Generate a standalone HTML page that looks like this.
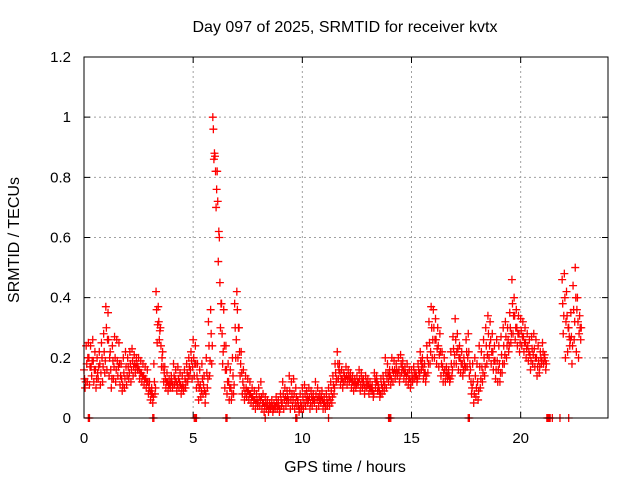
<!DOCTYPE html>
<html><head><meta charset="utf-8"><style>
body{margin:0;background:#fff}
svg{display:block;font-family:"Liberation Sans",sans-serif}
</style></head><body>
<svg id="chart" width="640" height="480" viewBox="0 0 640 480">
<rect width="640" height="480" fill="#fff"/>
<text x="345" y="32" font-size="16" text-anchor="middle">Day 097 of 2025, SRMTID for receiver kvtx</text>
<text x="345" y="472" font-size="16" text-anchor="middle">GPS time / hours</text>
<text transform="translate(19,240) rotate(-90)" font-size="16" text-anchor="middle">SRMTID / TECUs</text>
<g id="grid"></g>
<g id="axes"></g>
<g id="marks"></g>
<rect x="84" y="57" width="524" height="361" fill="none" stroke="#000" stroke-width="1"/>
</svg>
<script>
const xTicks = [0, 5, 10, 15, 20];
const yTicks = [0, 0.2, 0.4, 0.6, 0.8, 1, 1.2];
const yTickLabels = ["0", "0.2", "0.4", "0.6", "0.8", "1", "1.2"];
const step = 0.1;
const upperValues = [
.16,.24,.25,.24,.26,.22,.20,.22,.25,.28,
.37,.35,.22,.24,.27,.26,.25,.18,.20,.22,
.20,.22,.23,.21,.20,.20,.19,.18,.17,.16,
.12,.10,.18,.42,.37,.30,.22,.17,.15,.13,
.14,.18,.16,.17,.15,.14,.16,.18,.20,.22,
.26,.24,.18,.16,.18,.14,.20,.32,.36,1.00,
.87,.82,.60,.38,.36,.24,.18,.16,.20,.38,
.42,.30,.22,.16,.14,.13,.12,.10,.09,.08,
.10,.12,.08,.07,.06,.05,.06,.05,.07,.06,
.08,.12,.10,.09,.14,.12,.13,.10,.06,.08,
.10,.11,.09,.10,.09,.08,.12,.10,.08,.09,
.07,.08,.10,.12,.14,.18,.22,.18,.16,.15,
.17,.16,.15,.14,.13,.14,.16,.15,.13,.14,
.13,.12,.11,.15,.14,.10,.13,.14,.20,.18,
.16,.20,.19,.18,.20,.21,.19,.17,.18,.16,
.16,.17,.15,.18,.22,.20,.18,.24,.32,.37,
.36,.33,.30,.28,.22,.20,.17,.16,.22,.27,
.33,.28,.24,.22,.20,.26,.28,.16,.18,.20,
.18,.24,.22,.26,.30,.34,.32,.28,.24,.26,
.24,.27,.30,.32,.30,.35,.46,.40,.36,.34,
.33,.32,.30,.28,.26,.27,.28,.26,.24,.22,
.25,.21,null,null,null,null,null,null,null,.46,
.48,.42,.30,.35,.44,.50,.40,.34];
const upperMidValues = [
.13,.18,.20,.17,.19,.16,.15,.18,.20,.22,
.30,.26,.16,.19,.20,.19,.18,.13,.15,.17,
.17,.18,.19,.18,.18,.16,.15,.14,.13,.12,
.09,.08,.12,.36,.32,.24,.17,.13,.12,.11,
.12,.14,.12,.13,.11,.11,.13,.15,.17,.19,
.20,.18,.12,.11,.13,.09,.15,.24,.28,.96,
.82,.72,.45,.28,.24,.16,.12,.10,.14,.30,
.36,.22,.15,.10,.10,.09,.08,.07,.06,.06,
.07,.07,.05,.05,.04,.04,.04,.04,.05,.04,
.06,.08,.07,.07,.09,.08,.08,.07,.04,.05,
.07,.08,.07,.07,.07,.06,.08,.07,.06,.06,
.05,.06,.07,.09,.11,.15,.18,.15,.13,.14,
.14,.14,.13,.12,.12,.12,.13,.13,.11,.12,
.11,.10,.09,.13,.12,.09,.11,.12,.15,.15,
.14,.16,.16,.16,.16,.18,.16,.15,.15,.13,
.14,.15,.14,.16,.19,.17,.15,.20,.25,.30,
.30,.26,.24,.22,.17,.16,.15,.14,.18,.23,
.26,.23,.20,.18,.18,.22,.22,.12,.12,.14,
.12,.17,.17,.20,.24,.28,.26,.22,.19,.19,
.18,.21,.24,.27,.26,.30,.38,.34,.30,.28,
.29,.27,.25,.24,.21,.23,.23,.20,.19,.20,
.22,.19,null,null,null,null,null,null,null,.38,
.40,.34,.27,.27,.36,.40,.32,.30];
const lowerMidValues = [
.12,.20,.17,.19,.16,.13,.17,.15,.17,.19,
.26,.20,.13,.17,.16,.17,.14,.11,.13,.14,
.15,.16,.17,.17,.17,.15,.14,.13,.12,.10,
.08,.07,.10,.31,.29,.20,.15,.12,.11,.12,
.11,.13,.11,.12,.10,.10,.12,.14,.16,.17,
.18,.14,.10,.09,.11,.08,.13,.19,.24,.88,
.76,.62,.38,.22,.16,.12,.10,.08,.11,.26,
.30,.18,.12,.08,.09,.08,.07,.06,.05,.05,
.06,.05,.04,.04,.03,.04,.03,.04,.04,.03,
.05,.06,.06,.06,.06,.06,.05,.06,.03,.04,
.05,.06,.06,.05,.06,.06,.06,.06,.07,.05,
.04,.05,.06,.07,.10,.13,.16,.13,.12,.13,
.13,.13,.12,.11,.11,.12,.11,.12,.10,.11,
.10,.10,.08,.12,.11,.08,.10,.11,.13,.14,
.13,.15,.15,.15,.14,.17,.15,.14,.13,.12,
.13,.14,.13,.15,.18,.15,.14,.18,.22,.26,
.26,.23,.21,.18,.15,.14,.14,.13,.16,.21,
.22,.20,.18,.16,.17,.20,.18,.10,.08,.10,
.09,.13,.15,.17,.21,.24,.22,.19,.16,.16,
.15,.18,.21,.24,.24,.28,.34,.30,.28,.25,
.27,.25,.23,.22,.19,.21,.20,.17,.17,.19,
.20,.18,null,null,null,null,null,null,null,.34,
.32,.30,.26,.24,.32,.36,.28,.30];
const lowerValues = [
.10,.12,.11,.14,.12,.10,.13,.11,.12,.15,
.16,.14,.10,.13,.12,.14,.11,.09,.10,.11,
.13,.12,.14,.15,.16,.13,.12,.11,.10,.08,
.06,.05,.08,.25,.26,.17,.12,.10,.09,.10,
.10,.11,.09,.10,.08,.09,.10,.12,.14,.13,
.14,.10,.06,.07,.08,.05,.10,.14,.18,.86,
.70,.52,.30,.18,.10,.08,.06,.06,.08,.20,
.20,.14,.08,.06,.07,.06,.05,.04,.03,.04,
.04,.03,.02,.03,.02,.03,.02,.03,.03,.02,
.04,.03,.04,.05,.03,.04,.03,.04,.02,.03,
.03,.04,.05,.03,.04,.05,.03,.04,.05,.03,
.03,.04,.04,.05,.08,.12,.13,.11,.10,.12,
.11,.12,.10,.09,.10,.11,.09,.10,.08,.10,
.08,.09,.07,.10,.09,.07,.08,.09,.10,.12,
.11,.12,.13,.14,.12,.15,.13,.12,.11,.10,
.12,.13,.12,.14,.16,.13,.12,.15,.18,.20,
.20,.18,.17,.14,.12,.12,.13,.12,.14,.18,
.18,.16,.15,.14,.16,.17,.14,.08,.05,.07,
.06,.10,.12,.14,.18,.20,.18,.16,.13,.12,
.12,.15,.18,.20,.22,.25,.28,.26,.24,.22,
.24,.22,.20,.19,.16,.18,.17,.14,.15,.18,
.18,.16,null,null,null,null,null,null,null,.28,
.20,.22,.24,.18,.26,.22,.20,.26];
const zeroTimes = [0.2,0.25,3.15,3.2,5.05,5.1,5.15,6.5,6.55,8.3,9.7,9.75,11.2,13.95,14.0,14.05,17.6,17.65,21.2,21.25,21.3,21.35,21.45,21.8,22.2];

const NS = "http://www.w3.org/2000/svg";
const X0 = 84, X1 = 608, Y0 = 418, Y1 = 57;
function xs(t){ return X0 + (t/24)*(X1-X0); }
function ys(v){ return Y0 - (v/1.2)*(Y0-Y1); }
function mk(tag, attrs, parent){
  const e = document.createElementNS(NS, tag);
  for (const k in attrs) e.setAttribute(k, attrs[k]);
  parent.appendChild(e); return e;
}
const grid = document.getElementById('grid');
const axes = document.getElementById('axes');
const marks = document.getElementById('marks');

xTicks.forEach(t => {
  const x = xs(t);
  if (t > 0) {
    const g = mk('line', {x1:x, x2:x, y1:Y0, y2:Y1, stroke:'#a0a0a0', 'stroke-dasharray':'2,3'}, grid);
    
    
  }
  const tk = mk('path', {d:`M${x},${Y0}v-6M${x},${Y1}v6`, stroke:'#000'}, axes);
  
  
  const lb = mk('text', {x:x, y:443, 'font-size':15, 'text-anchor':'middle'}, axes);
  lb.textContent = String(t);
  
  
});
yTicks.forEach((v, i) => {
  const y = ys(v);
  if (v > 0 && v < 1.2) {
    const g = mk('line', {x1:X0, x2:X1, y1:y, y2:y, stroke:'#a0a0a0', 'stroke-dasharray':'2,3'}, grid);
    
    
  }
  const tk = mk('path', {d:`M${X0},${y}h6M${X1},${y}h-6`, stroke:'#000'}, axes);
  
  
  const lb = mk('text', {x:71, y:y+5, 'font-size':15, 'text-anchor':'end'}, axes);
  lb.textContent = yTickLabels[i];
  
  
});

function plus(t, v, color){
  const x = xs(t), y = ys(v);
  const p = mk('path', {d:`M${x-4},${y}h8M${x},${y-4}v8`, stroke:color, 'stroke-width':1.3}, marks);
  
  
}
upperValues.forEach((v, i) => { if (v !== null) plus(i*step, v, '#ff0000'); });
upperMidValues.forEach((v, i) => { if (v !== null) plus(i*step + 0.025, v, '#ff0000'); });
lowerValues.forEach((v, i) => { if (v !== null) plus(i*step + 0.05, v, '#ff0000'); });
lowerMidValues.forEach((v, i) => { if (v !== null) plus(i*step + 0.075, v, '#ff0000'); });
zeroTimes.forEach(t => plus(t, 0, '#ff0000'));
</script>
</body></html>
